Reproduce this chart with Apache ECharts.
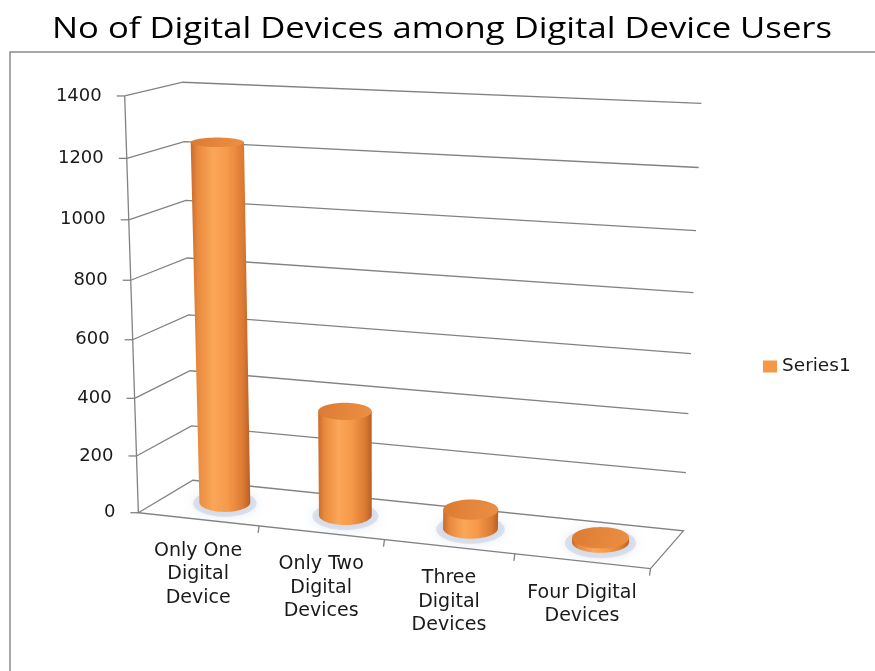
<!DOCTYPE html>
<html>
<head>
<meta charset="utf-8">
<script src="https://cdn.jsdelivr.net/npm/echarts@6/dist/echarts.min.js"></script>
<style>
  html, body { margin: 0; padding: 0; background: #ffffff; }
  #chart { width: 875px; height: 671px; }
</style>
</head>
<body>
<div id="chart"></div>
<script>
// ---- chart data ----
const titleText = 'No of Digital Devices among Digital Device Users';
const seriesName = 'Series1';
const categories = ['Only One\nDigital\nDevice', 'Only Two\nDigital\nDevices', 'Three\nDigital\nDevices', 'Four Digital\nDevices'];
const values = [1235, 362, 65, 15];
const tickValues = [0, 200, 400, 600, 800, 1000, 1200, 1400];
const tickLabels = ['0', '200', '400', '600', '800', '1000', '1200', '1400'];
const axisMax = 1400;

// ---- perspective frame of the 3D plot box ----
// anchors: [u (category span 0..1), v (value span 0..1), w (depth 0 front..1 back), screenX, screenY]
const frameAnchors = [
  [0, 1, 0, 125, 96], [0, 6 / 7, 0, 127, 158], [0, 5 / 7, 0, 129, 219], [0, 4 / 7, 0, 130, 280],
  [0, 3 / 7, 0, 133, 340], [0, 2 / 7, 0, 135, 398], [0, 1 / 7, 0, 137, 456], [0, 0, 0, 138, 513],
  [1, 1, 1, 700, 103], [1, 6 / 7, 1, 700, 168], [1, 5 / 7, 1, 697, 231], [1, 4 / 7, 1, 694, 293],
  [1, 3 / 7, 1, 690, 353], [1, 2 / 7, 1, 688, 413], [1, 1 / 7, 1, 686, 473], [1, 0, 1, 684, 530],
  [1, 0, 0, 650, 569], [0.25, 0, 0, 259, 526], [0.5, 0, 0, 385, 540], [0.75, 0, 0, 514, 554],
  [0, 1, 1, 182, 83]
];

// least-squares fit of a 3x4 projective camera (last entry fixed to 1)
function fitCamera(pts) {
  const rows = [], rhs = [];
  pts.forEach(([u, v, w, x, y]) => {
    rows.push([u, v, w, 1, 0, 0, 0, 0, -x * u, -x * v, -x * w]); rhs.push(x);
    rows.push([0, 0, 0, 0, u, v, w, 1, -y * u, -y * v, -y * w]); rhs.push(y);
  });
  const n = 11, M = [];
  for (let i = 0; i < n; i++) {
    const r = new Array(n + 1).fill(0);
    for (let k = 0; k < rows.length; k++) {
      for (let j = 0; j < n; j++) r[j] += rows[k][i] * rows[k][j];
      r[n] += rows[k][i] * rhs[k];
    }
    M.push(r);
  }
  for (let c = 0; c < n; c++) {
    let piv = c;
    for (let r = c + 1; r < n; r++) if (Math.abs(M[r][c]) > Math.abs(M[piv][c])) piv = r;
    [M[c], M[piv]] = [M[piv], M[c]];
    for (let r = 0; r < n; r++) {
      if (r === c) continue;
      const f = M[r][c] / M[c][c];
      for (let j = c; j <= n; j++) M[r][j] -= f * M[c][j];
    }
  }
  return M.map((r, i) => r[n] / r[i]);
}
const cam = fitCamera(frameAnchors);
function proj(u, v, w) {
  const d = cam[8] * u + cam[9] * v + cam[10] * w + 1;
  return [
    (cam[0] * u + cam[1] * v + cam[2] * w + cam[3]) / d,
    (cam[4] * u + cam[5] * v + cam[6] * w + cam[7]) / d
  ];
}

const FONT = '"DejaVu Sans", sans-serif';
const GRID_COLOR = '#828282';
const TEXT_COLOR = '#1a1a1a';

// normalised position of a data point inside the hidden cartesian grid
function toUV(api, cs, x, y) {
  const p = api.coord([x, y]);
  return [(p[0] - cs.x) / cs.width, (cs.y + cs.height - p[1]) / cs.height];
}

function ellipsePts(cx, cy, a, b, t0, t1, steps) {
  const pts = [];
  for (let i = 0; i <= steps; i++) {
    const t = t0 + (t1 - t0) * i / steps;
    pts.push([cx + a * Math.cos(t), cy + b * Math.sin(t)]);
  }
  return pts;
}

// walls, gridlines, floor, value axis and its labels
function renderFrame(params, api) {
  const cs = params.coordSys;
  const idx = params.dataIndex;
  const val = api.value(1);
  const v = toUV(api, cs, 0, val)[1];
  const children = [];
  const f0 = proj(0, v, 0), b0 = proj(0, v, 1), b1 = proj(1, v, 1);
  const line = { stroke: GRID_COLOR, lineWidth: 1.3 };
  if (val === 0) {
    const f1 = proj(1, 0, 0);
    children.push({
      type: 'polygon', shape: { points: [f0, b0, b1, f1] },
      style: { fill: '#ffffff', stroke: GRID_COLOR, lineWidth: 1.3 }
    });
    // category separators on the front edge
    for (let k = 1; k <= categories.length; k++) {
      const p = proj(k / categories.length, 0, 0);
      children.push({ type: 'line', shape: { x1: p[0], y1: p[1], x2: p[0] - 1, y2: p[1] + 7 }, style: line });
    }
    // value axis line
    const top = proj(0, 1, 0);
    children.push({ type: 'line', shape: { x1: f0[0], y1: f0[1], x2: top[0], y2: top[1] }, style: line });
  } else {
    children.push({ type: 'polyline', shape: { points: [f0, b0, b1] }, style: Object.assign({ fill: null }, line) });
  }
  children.push({ type: 'line', shape: { x1: f0[0] - 8, y1: f0[1], x2: f0[0], y2: f0[1] }, style: line });
  children.push({
    type: 'text', x: f0[0] - 23, y: f0[1],
    style: { text: tickLabels[idx], fill: TEXT_COLOR, fontSize: 18, fontFamily: FONT, align: 'right', verticalAlign: 'middle' }
  });
  return { type: 'group', children };
}

// one 3D cylinder per category, with its floor shadow and category label
function renderCylinder(params, api) {
  const cs = params.coordSys;
  const i = api.value(0);
  const val = api.value(1);
  const [u, v] = toUV(api, cs, i, val);
  const ru = api.size([1, 0])[0] / cs.width * 0.215;
  const rw = 0.29;
  const cb = proj(u, 0, 0.5), ct = proj(u, v, 0.5);
  const aB = (proj(u + ru, 0, 0.5)[0] - proj(u - ru, 0, 0.5)[0]) / 2;
  const aT = (proj(u + ru, v, 0.5)[0] - proj(u - ru, v, 0.5)[0]) / 2;
  const bB = (proj(u, 0, 0.5 - rw)[1] - proj(u, 0, 0.5 + rw)[1]) / 2;
  const bT = (proj(u, v, 0.5 - rw)[1] - proj(u, v, 0.5 + rw)[1]) / 2;

  const body = [[ct[0] - aT, ct[1]]]
    .concat(ellipsePts(cb[0], cb[1], aB, bB, Math.PI, 0, 40))
    .concat([[ct[0] + aT, ct[1]]]);

  const bodyFill = new echarts.graphic.LinearGradient(0, 0, 1, 0, [
    { offset: 0, color: '#C86A2C' },
    { offset: 0.12, color: '#E98A3E' },
    { offset: 0.38, color: '#FBA658' },
    { offset: 0.62, color: '#F6994A' },
    { offset: 0.88, color: '#DB7A33' },
    { offset: 1, color: '#B95E26' }
  ]);
  const topFill = new echarts.graphic.LinearGradient(0, 0, 1, 1, [
    { offset: 0, color: '#DB7B31' },
    { offset: 1, color: '#EC9045' }
  ]);
  const anchor = proj(u, 0, 0);
  const lh = 23.5;
  return {
    type: 'group',
    children: [
      {
        type: 'polygon', shape: { points: ellipsePts(cb[0], cb[1] + 1, aB * 1.25, bB * 1.4, 0, Math.PI * 2, 60) },
        style: { fill: 'rgba(150,168,200,0.28)', shadowBlur: 12, shadowColor: 'rgba(140,160,195,0.75)' }
      },
      { type: 'polygon', shape: { points: body }, style: { fill: bodyFill } },
      { type: 'polygon', shape: { points: ellipsePts(ct[0], ct[1], aT, bT, 0, Math.PI * 2, 60) }, style: { fill: topFill } },
      {
        type: 'text', x: anchor[0], y: anchor[1] + 31.5 - lh / 2,
        style: {
          text: categories[i], fill: TEXT_COLOR, fontSize: 19, fontFamily: FONT,
          align: 'center', verticalAlign: 'top', lineHeight: lh
        }
      }
    ]
  };
}

// title is stretched horizontally to span its box
const TITLE_FONT = '30px "Open Sans"';
const titleWidth = 780;
const measureCtx = document.createElement('canvas').getContext('2d');
measureCtx.font = TITLE_FONT;
const titleScale = titleWidth / measureCtx.measureText(titleText).width;

const chart = echarts.init(document.getElementById('chart'), null, { renderer: 'canvas' });
chart.setOption({
  animation: false,
  backgroundColor: '#ffffff',
  color: ['#F79646'],
  grid: { left: 100, top: 100, width: 400, height: 400 },
  xAxis: { type: 'category', data: categories, show: false },
  yAxis: { type: 'value', min: 0, max: axisMax, interval: 200, show: false },
  legend: {
    data: [seriesName],
    left: 763, top: 357, padding: 0,
    itemWidth: 14, itemHeight: 12, itemGap: 6,
    icon: 'rect',
    textStyle: { fontSize: 18.5, fontFamily: FONT, color: TEXT_COLOR }
  },
  graphic: [
    {
      type: 'rect', shape: { x: 10, y: 52, width: 870, height: 630 },
      style: { fill: null, stroke: '#8a8a8a', lineWidth: 1.5 }, z: -10
    },
    {
      type: 'text', x: 442, y: 29, scaleX: titleScale,
      style: { text: titleText, fill: '#000000', font: TITLE_FONT, align: 'center', verticalAlign: 'middle' }
    }
  ],
  series: [
    {
      type: 'custom', name: 'frame', coordinateSystem: 'cartesian2d', silent: true, z: 1,
      data: tickValues.map(t => [0, t]), encode: { x: 0, y: 1 },
      renderItem: renderFrame
    },
    {
      type: 'custom', name: seriesName, coordinateSystem: 'cartesian2d', z: 2,
      data: values.map((val, i) => [i, val]), encode: { x: 0, y: 1 },
      renderItem: renderCylinder
    }
  ]
});
</script>
</body>
</html>
